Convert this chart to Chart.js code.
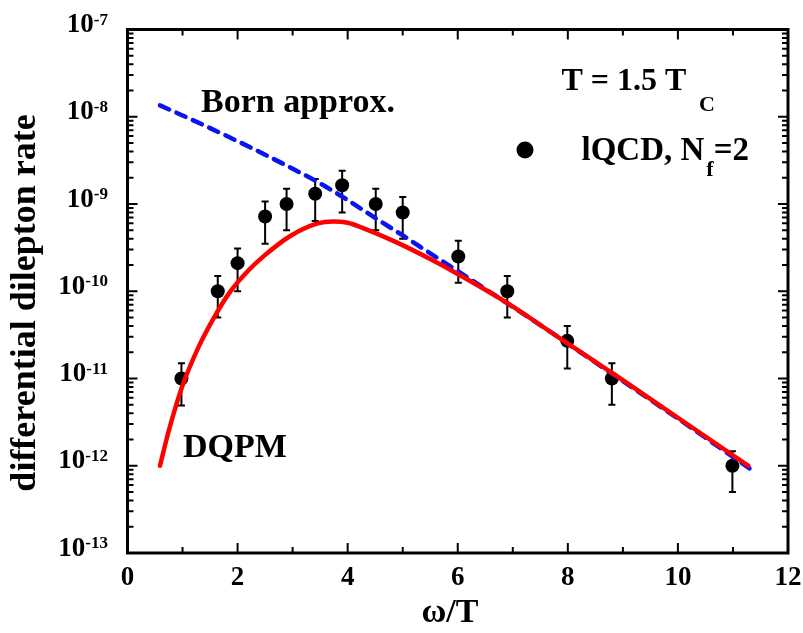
<!DOCTYPE html>
<html>
<head>
<meta charset="utf-8">
<script src="https://cdn.jsdelivr.net/npm/chart.js@4"></script>
<style>
  html, body { margin: 0; padding: 0; background: #ffffff; }
  #wrap { width: 803px; height: 633px; }
</style>
</head>
<body>
<div id="wrap"><canvas id="c" width="803" height="633"></canvas></div>
<script>
// ---------------- data ----------------
const lqcdOmega = [0.98, 1.64, 2.0, 2.5, 2.89, 3.41, 3.90, 4.51, 5.0, 6.01, 6.9, 7.99, 8.8, 10.99];
const lqcdRate  = [1.0e-11, 1.0e-10, 2.1e-10, 7.2e-10, 1.0e-9, 1.31e-9, 1.64e-9, 1.0e-9, 8.0e-10, 2.5e-10, 1.0e-10, 2.7e-11, 1.0e-11, 1.0e-12];
const lqcdErrHi = [1.5e-11, 1.5e-10, 3.1e-10, 1.07e-9, 1.5e-9, 1.94e-9, 2.4e-9, 1.5e-9, 1.2e-9, 3.8e-10, 1.5e-10, 4.0e-11, 1.5e-11, 1.47e-12];
const lqcdErrLo = [4.9e-12, 5.0e-11, 1.0e-10, 3.5e-10, 5.0e-10, 6.4e-10, 8.0e-10, 5.0e-10, 4.0e-10, 1.25e-10, 5.0e-11, 1.3e-11, 5.0e-12, 5.0e-13];

const dqpmOmega = [0.59, 0.7, 0.83, 1.0, 1.29, 1.6, 1.86, 2.2, 2.47, 2.95, 3.44, 3.74, 4.0, 4.28, 4.89, 5.5, 6.0, 6.89, 7.86, 9.0, 10.0, 11.28];
const dqpmRate  = [1.0e-12, 1.91e-12, 3.8e-12, 8.3e-12, 2.29e-11, 5.37e-11, 9.77e-11, 1.74e-10, 2.51e-10, 4.27e-10, 5.96e-10, 6.31e-10, 6.1e-10, 5.3e-10, 3.63e-10, 2.34e-10, 1.58e-10, 7.41e-11, 2.88e-11, 9.55e-12, 3.55e-12, 1.0e-12];

const bornOmega = [0.59, 1.0, 1.5, 2.0, 2.5, 3.0, 3.5, 4.0, 4.5, 5.0, 5.5, 6.0, 7.0, 8.0, 9.0, 10.0, 11.3];
const bornRate  = [1.35e-8, 1.035e-8, 7.41e-9, 5.25e-9, 3.67e-9, 2.54e-9, 1.72e-9, 1.11e-9, 6.92e-10, 4.37e-10, 2.72e-10, 1.70e-10, 6.61e-11, 2.51e-11, 9.33e-12, 3.47e-12, 9.33e-13];

const xTicks = [0, 2, 4, 6, 8, 10, 12];
const xMinorTicks = [1, 3, 5, 7, 9, 11];
const yDecades = [-7, -8, -9, -10, -11, -12, -13];

const xTitle = "ω/T";
const yTitle = "differential dilepton rate";
const bornLabel = "Born approx.";
const dqpmLabel = "DQPM";
const tempLabel = ["T = 1.5 T", "C"];
const lqcdLabel = ["lQCD, N", "f", "=2"];

// ---------------- helpers ----------------
const FONT = '"Liberation Serif", "Times New Roman", serif';
const toXY = (xs, ys) => xs.map((x, i) => ({ x: x, y: ys[i] }));

const decorations = {
  id: 'decorations',
  beforeDatasetsDraw(chart) {
    const ctx = chart.ctx;
    const xs = chart.scales.x, ys = chart.scales.y;
    ctx.save();
    ctx.strokeStyle = '#000';
    ctx.lineWidth = 2;
    lqcdOmega.forEach((w, i) => {
      const px = xs.getPixelForValue(w);
      const pTop = ys.getPixelForValue(lqcdErrHi[i]);
      const pBot = ys.getPixelForValue(lqcdErrLo[i]);
      ctx.beginPath();
      ctx.moveTo(px, pTop); ctx.lineTo(px, pBot);
      ctx.moveTo(px - 3.5, pTop); ctx.lineTo(px + 3.5, pTop);
      ctx.moveTo(px - 3.5, pBot); ctx.lineTo(px + 3.5, pBot);
      ctx.stroke();
    });
    ctx.restore();
  },
  afterDraw(chart) {
    const ctx = chart.ctx;
    const xs = chart.scales.x, ys = chart.scales.y;
    const a = chart.chartArea;
    ctx.save();
    // frame
    ctx.strokeStyle = '#000';
    ctx.lineWidth = 3;
    ctx.strokeRect(a.left, a.top, a.right - a.left, a.bottom - a.top);
    // ticks
    ctx.lineWidth = 2;
    ctx.beginPath();
    xTicks.forEach(v => {
      const p = xs.getPixelForValue(v);
      ctx.moveTo(p, a.bottom); ctx.lineTo(p, a.bottom - 10);
      ctx.moveTo(p, a.top); ctx.lineTo(p, a.top + 10);
    });
    xMinorTicks.forEach(v => {
      const p = xs.getPixelForValue(v);
      ctx.moveTo(p, a.bottom); ctx.lineTo(p, a.bottom - 6);
      ctx.moveTo(p, a.top); ctx.lineTo(p, a.top + 6);
    });
    yDecades.forEach(d => {
      const p = ys.getPixelForValue(Math.pow(10, d));
      ctx.moveTo(a.left, p); ctx.lineTo(a.left + 10, p);
      ctx.moveTo(a.right, p); ctx.lineTo(a.right - 10, p);
      if (d < -7) {
        for (let m = 2; m <= 9; m++) {
          const q = ys.getPixelForValue(m * Math.pow(10, d));
          ctx.moveTo(a.left, q); ctx.lineTo(a.left + 6, q);
          ctx.moveTo(a.right, q); ctx.lineTo(a.right - 6, q);
        }
      }
    });
    ctx.stroke();

    ctx.fillStyle = '#000';
    // x tick labels
    ctx.font = 'bold 27px ' + FONT;
    ctx.textAlign = 'center';
    ctx.textBaseline = 'alphabetic';
    xTicks.forEach(v => {
      ctx.fillText(String(v), xs.getPixelForValue(v), a.bottom + 32);
    });
    // y tick labels with superscripts
    yDecades.forEach(d => {
      const p = ys.getPixelForValue(Math.pow(10, d));
      const sup = String(d);
      ctx.font = 'bold 17px ' + FONT;
      const sw = ctx.measureText(sup).width;
      const right = 108;
      ctx.textAlign = 'left';
      ctx.fillText(sup, right - sw, p - 5);
      ctx.font = 'bold 27px ' + FONT;
      ctx.textAlign = 'right';
      ctx.fillText('10', right - sw, p + 2.5);
    });
    // axis titles
    ctx.font = 'bold 34px ' + FONT;
    ctx.textAlign = 'center';
    ctx.fillText(xTitle, 450, 622);
    ctx.save();
    ctx.translate(35, 303);
    ctx.rotate(-Math.PI / 2);
    ctx.font = 'bold 36px ' + FONT;
    ctx.fillText(yTitle, 0, 0);
    ctx.restore();

    // annotations
    ctx.textAlign = 'left';
    ctx.font = 'bold 34px ' + FONT;
    ctx.fillText(bornLabel, 201, 111.5);
    ctx.fillText(dqpmLabel, 183, 456.5);

    ctx.font = 'bold 32px ' + FONT;
    ctx.fillText(tempLabel[0], 561.5, 90);
    ctx.font = 'bold 22px ' + FONT;
    ctx.fillText(tempLabel[1], 699, 111);

    // legend for lQCD
    ctx.beginPath();
    ctx.arc(525, 150, 8.5, 0, Math.PI * 2);
    ctx.fill();
    ctx.font = 'bold 33px ' + FONT;
    ctx.fillText(lqcdLabel[0], 581.5, 160);
    let x2 = 581.5 + ctx.measureText(lqcdLabel[0]).width;
    ctx.font = 'bold 22px ' + FONT;
    ctx.fillText(lqcdLabel[1], x2 + 2, 176);
    x2 += 2 + ctx.measureText(lqcdLabel[1]).width;
    ctx.font = 'bold 33px ' + FONT;
    ctx.fillText(lqcdLabel[2], x2, 160);
    ctx.restore();
  }
};

new Chart(document.getElementById('c'), {
  type: 'line',
  data: {
    datasets: [
      {
        label: 'lQCD, Nf=2',
        data: toXY(lqcdOmega, lqcdRate),
        showLine: false,
        pointRadius: 7,
        pointBackgroundColor: '#000',
        pointBorderColor: '#000',
        pointBorderWidth: 0,
        order: 3
      },
      {
        label: 'Born approx.',
        data: toXY(bornOmega, bornRate),
        borderColor: '#0a14f0',
        borderWidth: 4.5,
        borderDash: [10, 8],
        borderCapStyle: 'round',
        pointRadius: 0,
        fill: false,
        cubicInterpolationMode: 'monotone',
        order: 2
      },
      {
        label: 'DQPM',
        data: toXY(dqpmOmega, dqpmRate),
        borderColor: '#ff0000',
        borderWidth: 4.5,
        borderCapStyle: 'round',
        pointRadius: 0,
        fill: false,
        cubicInterpolationMode: 'monotone',
        order: 1
      }
    ]
  },
  options: {
    responsive: false,
    animation: false,
    devicePixelRatio: 1,
    layout: { padding: { left: 127.5, right: 15, top: 29.5, bottom: 80 } },
    plugins: { legend: { display: false }, tooltip: { enabled: false } },
    scales: {
      x: { type: 'linear', min: 0, max: 12, display: false },
      y: { type: 'logarithmic', min: 1e-13, max: 1e-7, display: false }
    }
  },
  plugins: [decorations]
});
</script>
</body>
</html>
